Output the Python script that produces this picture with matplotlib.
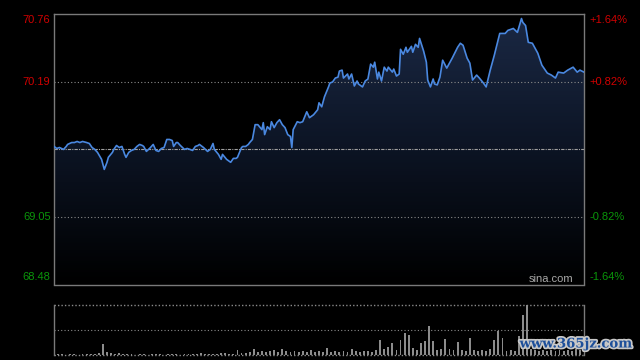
import numpy as np
import matplotlib
matplotlib.use('Agg')
import matplotlib.pyplot as plt
import matplotlib.patheffects as pe
from matplotlib.colors import LinearSegmentedColormap
from matplotlib.patches import Polygon

prev_close = 69.62
minutes = [0,2,4,7,9,10,13,15,17,19,
           21,24,26,28,30,32,35,37,39,40,
           43,44,46,48,50,52,53,55,57,59,
           61,63,65,66,68,71,73,75,77,79,
           81,83,85,87,88,90,91,93,96,98,
           100,102,104,106,107,110,113,115,117,118,
           121,123,124,127,130,132,134,135,138,139,
           141,143,144,146,148,150,153,154,155,157,
           159,160,162,164,166,168,170,172,174,175,
           176,179,181,183,186,188,191,194,195,197,
           199,202,203,205,207,209,210,212,213,216,
           217,219,221,223,224,227,229,231,233,235,
           236,238,239,241,243,245,246,249,250,252,
           254,255,257,259,260,263,264,266,268,269,
           272,274,275,277,279,280,282,284,286,289,
           293,297,299,301,304,306,308,311,313,316,
           318,321,324,328,332,334,338,341,344,345,
           347,349,352,354,356,359,363,366,369,371,
           375,378,382,385,387,390]
prices = [69.645,69.628,69.636,69.620,69.645,69.662,69.678,69.678,69.687,69.678,
          69.687,69.678,69.670,69.636,69.620,69.595,69.536,69.451,69.511,69.553,
          69.595,69.620,69.653,69.636,69.645,69.578,69.553,69.595,69.611,69.620,
          69.645,69.662,69.653,69.645,69.603,69.636,69.662,69.611,69.603,69.628,
          69.636,69.704,69.704,69.695,69.645,69.678,69.678,69.653,69.620,69.628,
          69.620,69.611,69.645,69.653,69.662,69.636,69.603,69.620,69.670,69.620,
          69.578,69.536,69.578,69.536,69.511,69.544,69.544,69.553,69.636,69.645,
          69.645,69.662,69.678,69.704,69.829,69.829,69.787,69.846,69.745,69.812,
          69.787,69.854,69.804,69.846,69.871,69.829,69.804,69.745,69.729,69.636,
          69.787,69.854,69.846,69.854,69.938,69.888,69.913,69.955,70.014,69.980,
          70.064,70.148,70.181,70.190,70.223,70.231,70.282,70.290,70.223,70.257,
          70.215,70.257,70.156,70.198,70.173,70.148,70.198,70.215,70.341,70.315,
          70.357,70.215,70.273,70.198,70.315,70.282,70.315,70.273,70.299,70.240,
          70.257,70.466,70.424,70.483,70.441,70.491,70.441,70.508,70.483,70.558,
          70.450,70.357,70.206,70.148,70.215,70.173,70.165,70.231,70.374,70.307,
          70.391,70.483,70.517,70.500,70.391,70.349,70.206,70.248,70.223,70.181,
          70.148,70.290,70.416,70.600,70.600,70.626,70.642,70.609,70.726,70.693,
          70.667,70.525,70.517,70.475,70.433,70.332,70.265,70.248,70.223,70.273,
          70.265,70.290,70.315,70.273,70.290,70.273]

vol_minutes = list(range(0, 390, 3))
volumes = [1,1,1,0.5,1,1,0.5,1,1,1,1,
           2,11,3,2,1,2,1,1,1,
           0.5,1,1,0.5,1,1,1,0.5,1,1,1,0.5,1,1,1,1,
           2,1,1,1,1,2,2,1,1,5,2,2,3,
           6,3,4,3,4,5,3,6,4,3,4,
           3,4,3,5,3,4,3,7,3,4,3,4,3,
           6,4,3,4,4,3,5,15,6,8,12,5,
           15,22,20,7,5,12,14,29,14,5,6,16,
           6,5,13,5,4,17,5,4,5,4,6,15,
           24,17,4,5,4,19,40,50,6,5,4,
           5,4,5,4,5,4,5,4,6,5]

left_labels = ['70.76', '70.19', '69.05', '68.48']
left_values = [70.76, 70.19, 69.05, 68.48]
right_labels = ['+1.64%', '+0.82%', '-0.82%', '-1.64%']

RED = '#d00000'
GREEN = '#0a960a'
GRID = '#8a8a8a'
SPINE = '#7a7a7a'
FONT = 'Liberation Sans'

fig = plt.figure(figsize=(6.4, 3.6), dpi=100, facecolor='black')
ax = fig.add_axes([54/640, 1-284.5/360, 530/640, 270.2/360], facecolor='black')
ymin = prev_close * (1 - 0.0164)
ymax = prev_close * (1 + 0.0164)
ax.set_xlim(0, 390)
ax.set_ylim(ymin, ymax)

# gradient fill under line
grad = np.linspace(0, 1, 256).reshape(-1, 1)
cmap = LinearSegmentedColormap.from_list('g', ['#000000', '#0c1424', '#1b2945'])
im = ax.imshow(grad, extent=[0, 390, ymin, ymax], aspect='auto', origin='lower',
               cmap=cmap, zorder=1)
verts = np.column_stack([np.r_[minutes, minutes[-1], minutes[0]],
                         np.r_[prices, ymin, ymin]])
poly = Polygon(verts, closed=True, facecolor='none', edgecolor='none')
ax.add_patch(poly)
im.set_clip_path(poly)

# grid lines
for v in [70.19, 69.05]:
    ax.axhline(v, color=GRID, lw=0.8, ls=(0, (1, 2)), zorder=2)
ax.axhline(prev_close, color='#a0a0a0', lw=0.8, ls=(0, (3, 1, 1, 1)), zorder=2)

ax.plot(minutes, prices, color='#4a88e0', lw=1.2, zorder=3)

for s in ax.spines.values():
    s.set_color(SPINE)
    s.set_linewidth(1)
ax.set_xticks([])
ax.set_yticks([])

offsets = [-4.2, 0, 0, 5]
colors = [RED, RED, GREEN, GREEN]
for lab, val, off, c in zip(left_labels, left_values, offsets, colors):
    ax.annotate(lab, xy=(0, val), xycoords=('axes fraction', 'data'),
                xytext=(-2.5, off), textcoords='offset points',
                ha='right', va='center', color=c, fontsize=8, family=FONT)
for lab, val, off, c in zip(right_labels, left_values, offsets, colors):
    ax.annotate(lab, xy=(1, val), xycoords=('axes fraction', 'data'),
                xytext=(4, off), textcoords='offset points',
                ha='left', va='center', color=c, fontsize=8, family=FONT)

ax.text(573/640, 1-279/360, 'sina.com', transform=fig.transFigure, ha='right',
        va='center', color='#a8a8a8', fontsize=8, family=FONT, zorder=5)

# volume panel
vax = fig.add_axes([54/640, 1-355/360, 530/640, 50/360], facecolor='black')
vax.set_xlim(0, 390)
vax.set_ylim(0, 50)
vax.bar(vol_minutes, volumes, width=1.4, color='#8c8c8c', align='center', zorder=2)
vax.axhline(25, color=GRID, lw=0.8, ls=(0, (1, 2)), zorder=1)
vax.axhline(50, color=GRID, lw=1.0, ls=(0, (1, 1.5)), zorder=1, clip_on=False)
vax.axhline(0, color=GRID, lw=1.0, ls=(0, (1, 1.5)), zorder=1, clip_on=False)
vax.spines['top'].set_visible(False)
vax.spines['bottom'].set_visible(False)
for k in ['left', 'right']:
    vax.spines[k].set_color(SPINE)
    vax.spines[k].set_linewidth(1)
vax.set_xticks([])
vax.set_yticks([])

fig.text(576/640, 1-344/360, 'www.365jz.com', ha='center', va='center',
         color='#1d4f9a', fontsize=9.5, family='DejaVu Serif', weight='bold',
         path_effects=[pe.withStroke(linewidth=2.5, foreground='#c8c8c8')], zorder=10)

fig.savefig('out.png', dpi=100, facecolor='black')
